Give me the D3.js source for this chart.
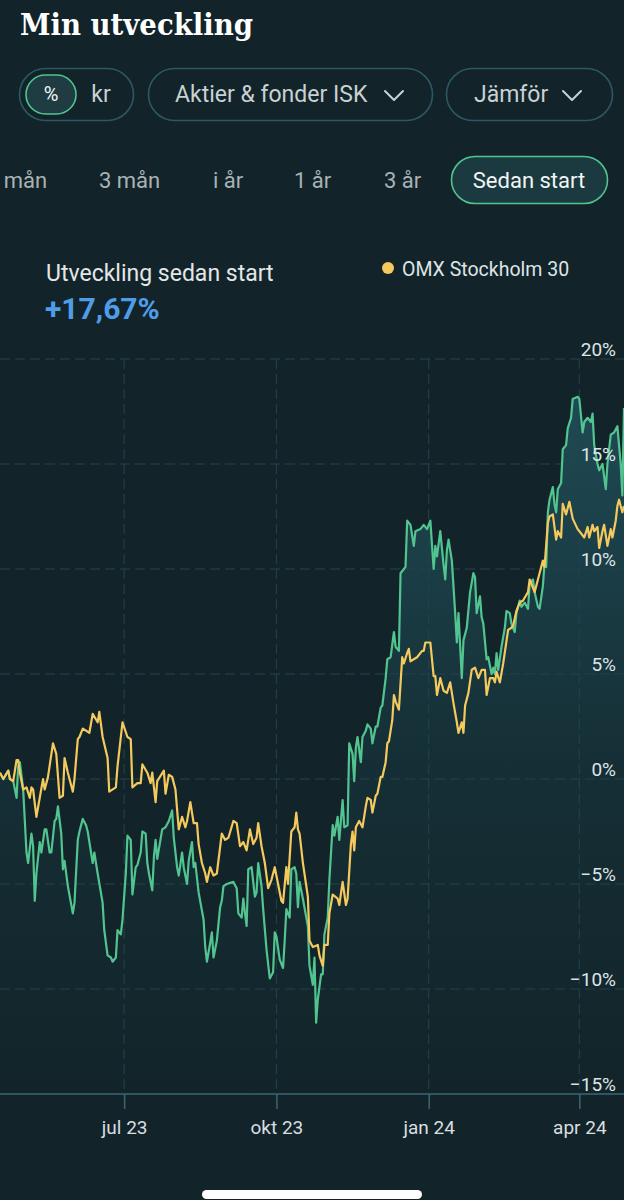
<!DOCTYPE html>
<html>
<head>
<meta charset="utf-8">
<script src="https://cdn.jsdelivr.net/npm/d3@7.9.0/dist/d3.min.js"></script>
<style>
  html, body { margin: 0; padding: 0; background: #12242a; }
  svg { display: block; font-family: Roboto, "Noto Sans", sans-serif; }
</style>
</head>
<body>
<svg id="chart" width="624" height="1200"></svg>
<script>
// data: [days since start, % change]
const startDate = new Date(2023, 3, 17);
const endDate = new Date(2024, 3, 28);

const portfolio = [
  [0,0.3],[2,0.0],[5,0.4],[6,0.0],[8,-0.1],[10,-0.9],[11,0.6],[12,0.8],[14,-0.5],[15,-2.0],
  [16,-3.5],[17,-4.0],[19,-2.6],[20,-3.2],[21,-5.8],[22,-4.5],[24,-3.0],[25,-3.5],[27,-2.4],[28,-2.4],
  [30,-3.5],[31,-3.5],[33,-2.0],[34,-1.9],[35,-1.3],[37,-2.6],[38,-4.3],[39,-3.9],[41,-5.1],[44,-6.4],
  [45,-5.9],[47,-2.9],[48,-2.5],[50,-1.9],[52,-2.2],[53,-2.5],[56,-4.0],[57,-3.5],[59,-4.5],[62,-5.9],
  [63,-7.2],[65,-8.4],[67,-8.5],[68,-8.7],[70,-8.5],[71,-7.2],[73,-7.4],[74,-6.7],[76,-4.5],[77,-2.7],
  [79,-2.9],[80,-5.5],[82,-4.2],[83,-4.1],[85,-3.5],[86,-2.5],[88,-2.6],[89,-4.0],[90,-4.5],[92,-5.3],
  [93,-3.7],[94,-2.9],[95,-3.8],[98,-2.4],[100,-2.3],[102,-2.0],[104,-1.5],[105,-2.8],[107,-4.2],[108,-4.6],
  [110,-3.5],[111,-4.2],[113,-5.0],[114,-3.9],[116,-3.0],[117,-4.2],[118,-4.0],[120,-5.4],[123,-6.7],[124,-8.0],
  [125,-8.7],[127,-7.8],[128,-7.3],[129,-8.5],[131,-7.7],[133,-6.1],[134,-5.8],[135,-5.1],[137,-5.0],[141,-4.9],
  [143,-5.2],[144,-6.4],[146,-6.6],[147,-5.7],[148,-6.4],[149,-7.0],[150,-4.3],[152,-4.2],[154,-5.6],[155,-5.4],
  [156,-4.0],[158,-5.1],[159,-6.2],[161,-8.1],[163,-9.5],[165,-9.2],[166,-7.3],[167,-7.5],[169,-8.6],[171,-9.0],
  [172,-7.7],[173,-6.2],[175,-6.6],[176,-4.3],[178,-4.2],[179,-4.5],[180,-6.1],[181,-4.9],[183,-5.7],[186,-7.0],
  [187,-8.9],[189,-9.8],[190,-8.5],[191,-11.6],[192,-10.5],[194,-9.3],[195,-9.3],[196,-7.4],[198,-6.6],[199,-4.8],
  [201,-2.2],[202,-2.7],[204,-1.8],[205,-2.9],[207,-1.0],[208,-2.3],[210,-2.2],[211,1.7],[213,1.2],[214,-0.1],
  [215,1.5],[216,2.0],[218,0.8],[219,2.0],[221,2.3],[222,2.6],[224,2.4],[225,1.7],[227,2.5],[228,2.5],
  [230,3.4],[231,3.5],[233,4.8],[234,5.7],[236,5.8],[238,7.0],[239,6.3],[241,6.1],[242,9.8],[244,10.0],
  [245,10.1],[246,12.3],[248,12.1],[250,11.1],[251,11.8],[254,11.9],[256,12.1],[258,11.9],[260,12.3],[262,10.0],
  [263,11.1],[264,10.6],[266,11.8],[268,10.2],[269,9.5],[270,10.9],[271,11.4],[273,10.4],[275,7.9],[276,6.5],
  [277,7.9],[279,4.8],[280,6.6],[282,7.2],[284,8.9],[286,9.8],[287,9.6],[288,7.9],[290,8.7],[291,7.7],
  [292,7.4],[294,5.7],[295,5.8],[297,5.0],[298,5.3],[299,5.0],[300,6.0],[301,5.2],[303,6.3],[305,7.2],
  [306,8.0],[308,7.9],[309,7.4],[311,7.0],[312,7.9],[314,8.5],[315,8.2],[317,8.4],[319,8.1],[320,9.3],
  [322,9.5],[323,8.9],[325,8.2],[326,8.1],[328,9.2],[329,10.3],[330,10.1],[331,12.7],[332,13.3],[334,13.9],
  [335,13.1],[336,12.7],[337,13.8],[339,14.1],[340,15.7],[342,15.9],[343,16.7],[345,17.2],[346,18.1],[349,18.2],
  [350,18.1],[352,16.5],[353,17.0],[355,17.2],[357,17.0],[358,17.4],[359,15.9],[361,15.0],[362,14.7],[364,15.0],
  [365,14.4],[366,13.8],[367,15.0],[369,16.4],[371,16.5],[373,16.8],[375,15.0],[376,13.5],[377,17.67]
];

const omx30 = [
  [0,0.3],[2,0.0],[5,0.4],[6,0.0],[8,-0.1],[10,0.9],[11,0.9],[12,0.3],[14,-0.5],[16,-0.4],
  [18,-0.9],[19,-0.4],[20,-0.5],[22,-1.8],[24,-0.9],[26,0.0],[27,-0.5],[29,0.1],[32,1.7],[34,1.2],
  [36,-0.9],[38,-0.8],[39,1.0],[41,0.3],[44,-0.6],[45,0.0],[47,1.9],[48,2.0],[50,2.4],[54,2.2],
  [56,3.1],[59,2.7],[60,3.2],[62,2.0],[65,1.0],[66,-0.6],[70,-0.4],[71,0.6],[74,2.7],[77,2.0],
  [79,1.9],[80,-0.4],[83,-0.2],[85,-0.2],[86,0.7],[89,0.3],[91,-0.2],[92,0.3],[94,-1.1],[95,-0.1],
  [99,0.4],[100,-0.7],[102,0.2],[104,0.1],[106,-0.5],[108,-2.4],[110,-1.8],[112,-2.3],[113,-2.0],[115,-1.1],
  [117,-2.1],[119,-2.1],[120,-3.1],[122,-4.0],[124,-4.5],[125,-4.9],[127,-4.2],[129,-4.6],[131,-4.5],[134,-2.6],
  [136,-2.9],[138,-2.8],[141,-2.0],[143,-2.1],[145,-3.2],[147,-3.0],[149,-3.4],[151,-2.4],[153,-3.1],[155,-2.8],
  [156,-2.1],[158,-3.2],[160,-4.0],[162,-5.2],[164,-4.8],[166,-4.2],[168,-5.0],[170,-5.8],[171,-5.9],[173,-4.2],
  [174,-5.0],[176,-2.5],[178,-2.3],[179,-1.6],[180,-2.4],[181,-2.6],[183,-4.0],[186,-5.6],[187,-7.7],[189,-8.0],
  [192,-7.9],[193,-8.4],[195,-8.9],[196,-7.9],[198,-7.9],[199,-6.4],[201,-5.5],[204,-5.7],[205,-6.0],[207,-4.9],
  [209,-6.0],[210,-5.7],[212,-3.1],[213,-2.5],[214,-3.4],[215,-2.3],[217,-2.0],[219,-2.3],[221,-1.3],[222,-0.9],
  [224,-1.0],[225,-1.6],[227,-0.8],[228,-0.7],[230,0.1],[231,0.1],[233,0.8],[234,1.7],[235,1.8],[237,2.8],
  [238,4.0],[239,3.7],[241,3.3],[243,5.8],[244,5.5],[246,6.0],[247,6.2],[248,5.6],[250,5.7],[252,5.8],
  [255,6.1],[256,6.1],[257,6.5],[260,6.5],[262,4.9],[263,4.9],[264,4.0],[266,4.8],[268,4.2],[270,4.1],
  [272,4.6],[274,3.6],[276,2.7],[277,2.2],[279,2.7],[280,2.2],[281,3.5],[283,4.1],[285,5.2],[287,5.3],
  [289,4.8],[291,5.2],[293,5.2],[294,4.0],[296,4.8],[298,4.8],[299,4.6],[300,5.1],[302,4.6],[304,5.5],
  [307,7.1],[309,7.2],[310,7.3],[312,8.0],[314,8.4],[316,8.5],[319,8.9],[320,9.5],[322,9.1],[323,8.9],
  [325,9.5],[328,10.4],[329,10.1],[331,12.2],[332,12.5],[334,12.6],[336,11.4],[337,11.8],[339,11.5],[340,13.1],
  [342,12.6],[344,13.2],[346,12.4],[349,11.9],[351,11.7],[353,11.5],[355,12.0],[356,11.5],[358,12.1],[359,11.8],
  [361,12.0],[362,11.0],[364,11.8],[365,12.1],[367,11.1],[369,11.9],[370,11.5],[372,12.3],[373,13.0],[374,13.3],
  [376,12.7],[377,13.0]
];

const yTicks = [20, 15, 10, 5, 0, -5, -10, -15];
const xTicks = [new Date(2023, 6, 1), new Date(2023, 9, 1), new Date(2024, 0, 1), new Date(2024, 3, 1)];
const xTickLabels = ['jul 23', 'okt 23', 'jan 24', 'apr 24'];
const periods = ['1 mån', '3 mån', 'i år', '1 år', '3 år', 'Sedan start'];
const periodX = [-14, 99, 213, 294, 384, 529];

const W = 624, H = 1200;
const bg = '#12242a';
const green = '#52c48f';
const yellow = '#f4c95d';

const svg = d3.select('#chart');
svg.append('rect').attr('width', W).attr('height', H).attr('fill', bg);

// ---- header ----
svg.append('text')
  .attr('x', 20).attr('y', 35)
  .style('font-family', '"DejaVu Serif", serif')
  .attr('font-weight', 'bold')
  .attr('font-size', 29)
  .attr('textLength', 233).attr('lengthAdjust', 'spacingAndGlyphs')
  .attr('fill', '#ffffff')
  .text('Min utveckling');

const pillStroke = '#2c5862';
const pill = (x, w, y, h) => svg.append('rect')
  .attr('x', x).attr('y', y).attr('width', w).attr('height', h)
  .attr('rx', h / 2).attr('fill', 'none')
  .attr('stroke', pillStroke).attr('stroke-width', 1.6);

pill(19.5, 114, 68.5, 52);
svg.append('rect').attr('x', 26).attr('y', 75).attr('width', 50).attr('height', 39)
  .attr('rx', 19.5).attr('fill', '#1e3c42').attr('stroke', green).attr('stroke-width', 1.6);
svg.append('text').attr('x', 51).attr('y', 101).attr('text-anchor', 'middle')
  .attr('font-size', 20).attr('fill', '#f2f5f5').text('%');
svg.append('text').attr('x', 101).attr('y', 102).attr('text-anchor', 'middle')
  .attr('font-size', 23).attr('fill', '#c9d1d3').text('kr');

pill(148.5, 284, 68.5, 52);
svg.append('text').attr('x', 175).attr('y', 102)
  .attr('font-size', 23).attr('fill', '#c9d1d3').text('Aktier & fonder ISK');
pill(446.5, 166, 68.5, 52);
svg.append('text').attr('x', 474).attr('y', 102)
  .attr('font-size', 23).attr('fill', '#c9d1d3').text('Jämför');

const chevron = cx => svg.append('polyline')
  .attr('points', `${cx - 9},${91} ${cx},${100} ${cx + 9},${91}`)
  .attr('fill', 'none').attr('stroke', '#c9d1d3').attr('stroke-width', 2)
  .attr('stroke-linecap', 'round').attr('stroke-linejoin', 'round');
chevron(394);
chevron(572);

// period tabs
svg.append('rect').attr('x', 451.5).attr('y', 156.5).attr('width', 156).attr('height', 47)
  .attr('rx', 23.5).attr('fill', '#1b3a40').attr('stroke', green).attr('stroke-width', 1.6);
periods.forEach((p, i) => {
  const last = i === periods.length - 1;
  svg.append('text')
    .attr('x', periodX[i]).attr('y', 188)
    .attr('text-anchor', last ? 'middle' : 'start')
    .attr('font-size', 22)
    .attr('fill', last ? '#f2f5f5' : '#a9b3b5')
    .text(p);
});

// summary + legend
svg.append('text').attr('x', 46).attr('y', 281)
  .attr('font-size', 23).attr('fill', '#e2e7e8').text('Utveckling sedan start');
svg.append('text').attr('x', 45).attr('y', 319)
  .attr('font-size', 30).attr('font-weight', 'bold').attr('fill', '#4f9de9').text('+17,67%');
svg.append('circle').attr('cx', 388).attr('cy', 268).attr('r', 6).attr('fill', yellow);
svg.append('text').attr('x', 402).attr('y', 276)
  .attr('font-size', 19.5).attr('fill', '#dfe4e5').text('OMX Stockholm 30');

// ---- chart ----
const x = d3.scaleTime().domain([startDate, endDate]).range([0, W]);
const y = d3.scaleLinear().domain([-15, 20]).range([1094, 359]);
const toDate = d => d3.timeDay.offset(startDate, d[0]);

const defs = svg.append('defs');
const grad = defs.append('linearGradient').attr('id', 'areaFill')
  .attr('gradientUnits', 'userSpaceOnUse')
  .attr('x1', 0).attr('x2', 0).attr('y1', y(20)).attr('y2', y(-15));
grad.append('stop').attr('offset', '0%').attr('stop-color', '#2b6f7c').attr('stop-opacity', 0.55);
grad.append('stop').attr('offset', '55%').attr('stop-color', '#2b6f7c').attr('stop-opacity', 0.14);
grad.append('stop').attr('offset', '100%').attr('stop-color', '#2b6f7c').attr('stop-opacity', 0);

const area = d3.area().x(d => x(toDate(d))).y0(y(-15)).y1(d => y(d[1]));
svg.append('path').datum(portfolio).attr('d', area).attr('fill', 'url(#areaFill)');

const grid = svg.append('g').attr('stroke', '#24434b').attr('stroke-width', 1).attr('stroke-dasharray', '10 5');
grid.selectAll('line.h').data(yTicks.filter(v => v > -15)).join('line')
  .attr('x1', 0).attr('x2', W).attr('y1', d => y(d)).attr('y2', d => y(d));
grid.selectAll('line.v').data(xTicks).join('line')
  .attr('x1', d => x(d)).attr('x2', d => x(d)).attr('y1', y(20)).attr('y2', y(-15));

// x axis
const xAxis = svg.append('g').attr('transform', `translate(0,${y(-15)})`)
  .call(d3.axisBottom(x).tickValues(xTicks).tickSize(15).tickPadding(12)
    .tickFormat((d, i) => xTickLabels[i]));
xAxis.select('.domain').remove();
xAxis.insert('line', ':first-child').attr('x1', 0).attr('x2', W)
  .attr('stroke', '#3a6673').attr('stroke-width', 1.6);
xAxis.selectAll('.tick line').attr('stroke', '#3a6673').attr('stroke-width', 1.5);
xAxis.selectAll('.tick text').attr('fill', '#d9dfe0').attr('font-size', 19)
  .attr('font-family', 'Roboto, sans-serif');

const line = d3.line().x(d => x(toDate(d))).y(d => y(d[1]));
svg.append('path').datum(portfolio).attr('d', line)
  .attr('fill', 'none').attr('stroke', green).attr('stroke-width', 2.2)
  .attr('stroke-linejoin', 'round');
svg.append('path').datum(omx30).attr('d', line)
  .attr('fill', 'none').attr('stroke', yellow).attr('stroke-width', 2.2)
  .attr('stroke-linejoin', 'round');

// y labels
const fmt = v => (v < 0 ? '\u2212' + Math.abs(v) : v) + '%';
svg.append('g').selectAll('text').data(yTicks).join('text')
  .attr('x', 616).attr('y', d => y(d) - 3)
  .attr('text-anchor', 'end').attr('font-size', 19).attr('fill', '#dfe4e5')
  .text(fmt);

// home indicator
svg.append('rect').attr('x', 202).attr('y', 1190).attr('width', 220).attr('height', 9)
  .attr('rx', 4.5).attr('fill', '#ffffff');
</script>
</body>
</html>
